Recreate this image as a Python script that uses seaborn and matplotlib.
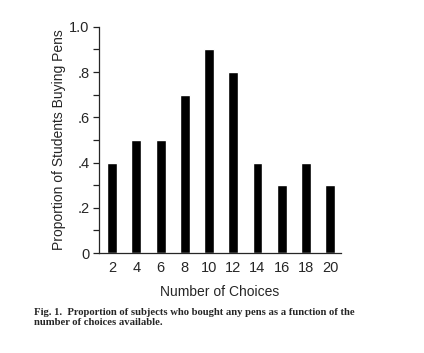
import pandas as pd
import matplotlib.pyplot as plt
import seaborn as sns
from matplotlib.ticker import MultipleLocator, FixedLocator

# Dados
numero_escolhas = [2, 4, 6, 8, 10, 12, 14, 16, 18, 20]
proporcao = [0.4, 0.5, 0.5, 0.7, 0.9, 0.8, 0.4, 0.3, 0.4, 0.3]
rotulos_y = ['0', '.2', '.4', '.6', '.8', '1.0']

df = pd.DataFrame({'escolhas': numero_escolhas, 'proporcao': proporcao})

sns.set_style('ticks')
plt.rcParams['font.family'] = ['Liberation Sans', 'DejaVu Sans']

fig = plt.figure(figsize=(4.24, 3.53), dpi=100)
ax = fig.add_axes([0.2335, 0.283, 0.571, 0.641])

sns.barplot(data=df, x='escolhas', y='proporcao', order=numero_escolhas,
            color='black', width=0.41, ax=ax, saturation=1)

ax.set_xlim(-0.54, 9.45)
ax.set_ylim(0, 1.0)
ax.yaxis.set_major_locator(FixedLocator([0, 0.2, 0.4, 0.6, 0.8, 1.0]))
ax.set_yticklabels(rotulos_y)
ax.yaxis.set_minor_locator(MultipleLocator(0.1))
ax.tick_params(axis='y', which='major', length=4, width=0.9, labelsize=10.5, pad=3, color='#222222')
ax.tick_params(axis='y', which='minor', length=4, width=0.9, color='#222222')
ax.tick_params(axis='x', length=0, labelsize=10.5, pad=6)

ax.set_xlabel('Number of Choices', fontsize=10, labelpad=7)
ax.set_ylabel('Proportion of Students Buying Pens', fontsize=10, labelpad=2)

sns.despine(ax=ax)
ax.spines['left'].set_linewidth(0.9)
ax.spines['bottom'].set_linewidth(0.9)

fig.text(0.08, 0.127, 'Fig. 1.  Proportion of subjects who bought any pens as a function of the\nnumber of choices available.',
         fontsize=7.7, fontweight='bold', family='Liberation Serif', linespacing=1.05, va='top')

plt.savefig('out.png', dpi=100)
